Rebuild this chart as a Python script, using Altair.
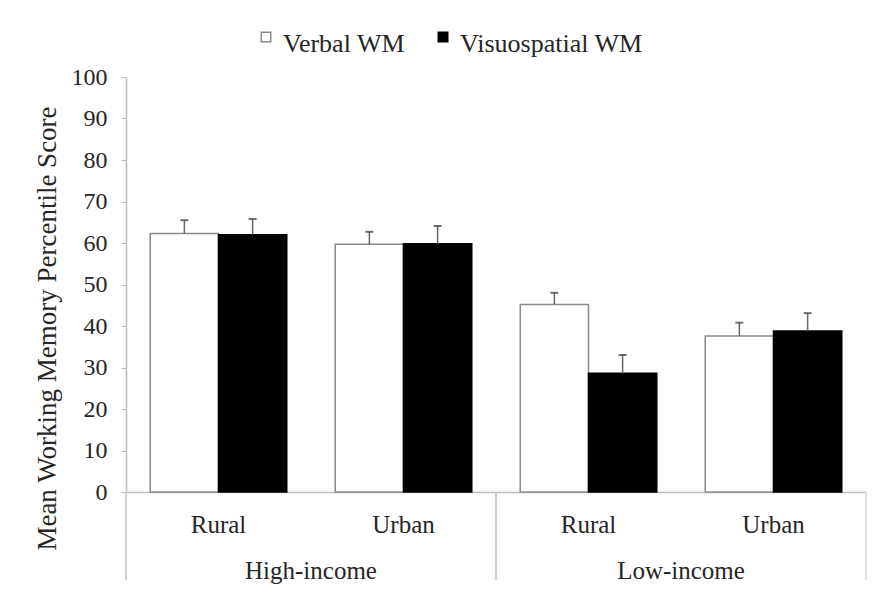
import altair as alt
import pandas as pd

income = ["High-income", "High-income", "High-income", "High-income",
          "Low-income", "Low-income", "Low-income", "Low-income"]
area = ["Rural", "Rural", "Urban", "Urban", "Rural", "Rural", "Urban", "Urban"]
series = ["Verbal WM", "Visuospatial WM"] * 4
means = [62.3, 62.0, 59.7, 59.8, 45.2, 28.6, 37.6, 38.8]
errs = [3.2, 3.8, 3.0, 4.3, 2.8, 4.4, 3.2, 4.3]

series_dom = ["Verbal WM", "Visuospatial WM"]
area_dom = ["Rural", "Urban"]
y_ticks = [0, 10, 20, 30, 40, 50, 60, 70, 80, 90, 100]

df = pd.DataFrame({"income": income, "area": area, "series": series,
                   "mean": means, "err": errs})

FONT = "Liberation Serif"
TXT = "#262626"
W, H = 370, 415

base = alt.Chart().transform_calculate(top="datum.mean + datum.err").encode(
    x=alt.X("area:N", sort=area_dom,
            scale=alt.Scale(domain=area_dom, paddingInner=0.262, paddingOuter=0.131),
            axis=alt.Axis(title=None, labelAngle=0, ticks=False, domainColor="#bdbdbd",
                          domainWidth=1.5, labelFontSize=25, labelFont=FONT,
                          labelColor=TXT, labelPadding=20)),
    xOffset=alt.XOffset("series:N", sort=series_dom,
                        scale=alt.Scale(domain=series_dom, paddingInner=0, paddingOuter=0)),
)

bars = base.mark_bar(strokeWidth=1.5).encode(
    y=alt.Y("mean:Q", scale=alt.Scale(domain=[0, 100], nice=False),
            axis=alt.Axis(title="Mean Working Memory Percentile Score", values=y_ticks,
                          grid=False, domainColor="#bdbdbd", domainWidth=1.5,
                          tickColor="#bdbdbd", tickSize=5, labelFontSize=24,
                          labelFont=FONT, labelColor=TXT, labelPadding=14,
                          titleFont=FONT, titleFontSize=27, titleFontWeight="normal",
                          titleColor=TXT, titlePadding=10, titleY=251)),
    fill=alt.Fill("series:N", sort=series_dom,
                  scale=alt.Scale(domain=series_dom, range=["#ffffff", "#000000"]),
                  legend=alt.Legend(title=None, orient="none", direction="horizontal",
                                    legendX=127, legendY=-46,
                                    symbolType="M-1,-2.5H1V-0.5H-1Z",
                                    symbolSize=90, symbolStrokeColor="#333333",
                                    symbolStrokeWidth=1.5, labelFontSize=26,
                                    labelFont=FONT, labelColor=TXT, labelOffset=4,
                                    labelLimit=0, columnPadding=24)),
    stroke=alt.Stroke("series:N", sort=series_dom,
                      scale=alt.Scale(domain=series_dom, range=["#8a8a8a", "#000000"]),
                      legend=None),
)

err_lines = base.mark_rule(color="#666666", strokeWidth=1.5).encode(
    y="mean:Q", y2="top:Q")
caps = base.mark_tick(color="#333333", thickness=2, size=8).encode(y="top:Q")

sep_left = alt.Chart().mark_rule(color="#cfcfcf", strokeWidth=1.5).encode(
    x=alt.value(0), y=alt.value(H), y2=alt.value(H + 88))
sep_right = alt.Chart().mark_rule(color="#e0e0e0", strokeWidth=1.5).encode(
    x=alt.value(W), y=alt.value(H), y2=alt.value(H + 88))

layered = alt.layer(bars, err_lines, caps, sep_left, sep_right).properties(width=W, height=H)

chart = layered.facet(
    data=df,
    column=alt.Column("income:N", sort=["High-income", "Low-income"],
                      header=alt.Header(title=None, labelOrient="bottom",
                                        labelFontSize=25, labelFont=FONT,
                                        labelColor=TXT, labelPadding=22)),
    spacing=0,
    bounds="flush",
).properties(
    background="white",
    padding={"left": 25, "top": 23, "right": 0, "bottom": 0},
).configure(font=FONT).configure_view(stroke=None).configure_legend(labelFont=FONT)

chart.save("out.html", embed_options={"renderer": "svg", "actions": False})
